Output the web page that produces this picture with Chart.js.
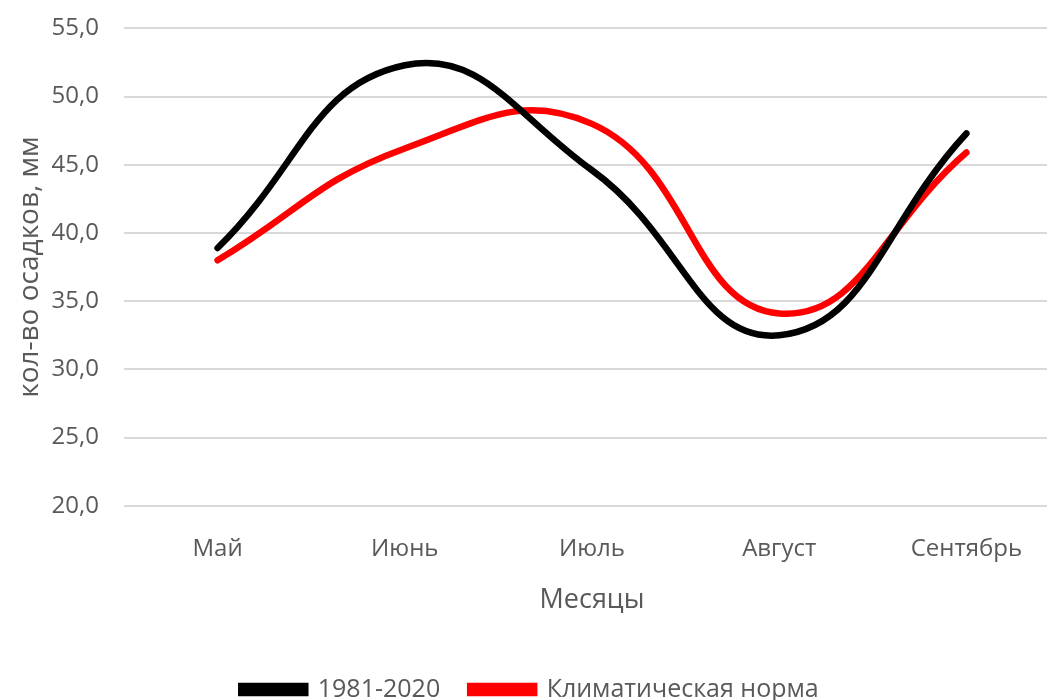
<!DOCTYPE html>
<html>
<head>
<meta charset="utf-8">
<script src="https://cdn.jsdelivr.net/npm/chart.js@4"></script>
<style>
  html, body { margin: 0; padding: 0; background: #fff; overflow: hidden; }
  #wrap { width: 1060px; height: 712px; }
</style>
</head>
<body>
<div id="wrap"><canvas id="chart"></canvas></div>
<script>
// Осадки по месяцам
const months = ['Май', 'Июнь', 'Июль', 'Август', 'Сентябрь'];
const period = [38.9, 52.3, 44.6, 32.5, 47.3];
const norm = [38.0, 46.2, 48.0, 34.1, 45.9];

const textColor = '#595959';
const gridColor = '#d9d9d9';
const font = 'Open Sans';

new Chart(document.getElementById('chart'), {
    type: 'line',
    data: {
        labels: months,
        datasets: [
            { label: '1981-2020', data: period, borderColor: '#000000', backgroundColor: '#000000', borderWidth: 6.5, pointRadius: 0, tension: 0.45, borderCapStyle: 'round' },
            { label: 'Климатическая норма', data: norm, borderColor: '#ff0000', backgroundColor: '#ff0000', borderWidth: 6.5, pointRadius: 0, tension: 0.45, borderCapStyle: 'round' }
        ]
    },
    options: {
        responsive: true,
        maintainAspectRatio: false,
        animation: false,
        layout: { padding: 0 },
        plugins: {
            legend: {
                position: 'bottom',
                labels: { color: textColor, boxWidth: 64, boxHeight: 7, padding: 30, font: { size: 25, family: font } }
            },
            tooltip: { enabled: false }
        },
        scales: {
            x: {
                offset: true,
                grid: { display: false },
                border: { display: false },
                ticks: { color: textColor, padding: 21, font: { size: 24, family: font } },
                title: { display: true, text: 'Месяцы', color: textColor, font: { size: 27, family: font }, padding: { top: 0, bottom: 30 } }
            },
            y: {
                min: 20, max: 55,
                grid: { color: gridColor, lineWidth: 2, drawTicks: true, tickLength: 11, tickColor: 'rgba(0,0,0,0)' },
                border: { display: false },
                ticks: { stepSize: 5, color: textColor, padding: 14, font: { size: 24, family: font }, callback: v => v.toFixed(1).replace('.', ',') },
                title: { display: true, text: 'кол-во осадков, мм', color: textColor, font: { size: 28, family: font }, padding: { top: 13, bottom: -9 } }
            }
        }
    }
});
</script>
</body>
</html>
